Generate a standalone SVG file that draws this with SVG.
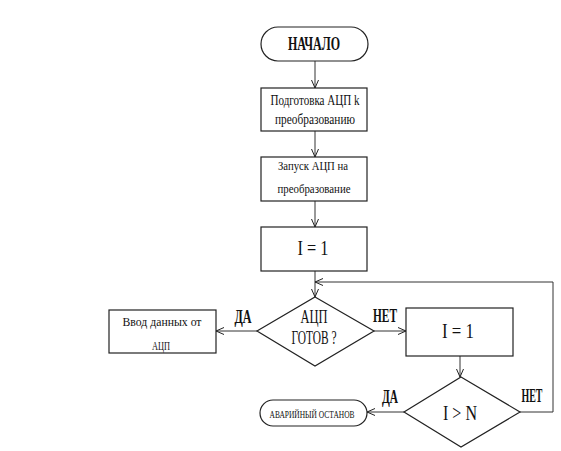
<svg xmlns="http://www.w3.org/2000/svg" width="561" height="451" viewBox="0 0 561 451">
<defs>
<marker id="arr" markerWidth="10" markerHeight="10" refX="9" refY="5" orient="auto" markerUnits="userSpaceOnUse">
<path d="M1,1.5 L9,5 L1,8.5" fill="none" stroke="#222" stroke-width="1"/>
</marker>
<style>
.s{fill:#fff;stroke:#222;stroke-width:1.2}
.c{fill:none;stroke:#333;stroke-width:1}
text{font-family:"Liberation Serif","DejaVu Serif",serif;fill:#111;text-anchor:middle}
.t{font-size:15px}
.t2{font-size:13px}
.b{font-size:19px;font-weight:bold}
.m{font-size:22px}
.q{font-size:19px}
.sm{font-size:10px}
</style>
</defs>
<rect width="561" height="451" fill="#fff"/>
<g id="connectors">
<line class="c" x1="315" y1="61" x2="315" y2="88" marker-end="url(#arr)"/>
<line class="c" x1="315" y1="131" x2="315" y2="157" marker-end="url(#arr)"/>
<line class="c" x1="315" y1="201" x2="315" y2="227" marker-end="url(#arr)"/>
<line class="c" x1="315" y1="271" x2="315" y2="297" marker-end="url(#arr)"/>
<line class="c" x1="257" y1="331" x2="216" y2="331" marker-end="url(#arr)"/>
<line class="c" x1="374" y1="331" x2="406" y2="331" marker-end="url(#arr)"/>
<line class="c" x1="460" y1="356" x2="460" y2="377" marker-end="url(#arr)"/>
<line class="c" x1="404" y1="412" x2="367" y2="412" marker-end="url(#arr)"/>
<polyline class="c" points="520,412 553,412 553,282 315,282" marker-end="url(#arr)"/>
</g>
<g id="start">
<rect class="s" x="261" y="27" width="107" height="34" rx="17"/>
<text class="b" x="314" y="50" font-size="20" textLength="52" lengthAdjust="spacingAndGlyphs">НАЧАЛО</text>
</g>
<g id="prep">
<rect class="s" x="261" y="88" width="106" height="43"/>
<text class="t" x="315" y="105" textLength="89" lengthAdjust="spacingAndGlyphs">Подготовка АЦП k</text>
<text class="t" x="315" y="124" textLength="80" lengthAdjust="spacingAndGlyphs">преобразованию</text>
</g>
<g id="launch">
<rect class="s" x="261" y="157" width="106" height="44"/>
<text class="t2" x="313" y="170" textLength="70" lengthAdjust="spacingAndGlyphs">Запуск  АЦП на</text>
<text class="t2" x="314" y="193" textLength="73" lengthAdjust="spacingAndGlyphs">преобразование</text>
</g>
<g id="init">
<rect class="s" x="261" y="227" width="106" height="44"/>
<text class="m" x="313" y="255" textLength="31" lengthAdjust="spacingAndGlyphs">I = 1</text>
</g>
<g id="ready">
<polygon class="s" points="315,297 374,331 315,366 257,331"/>
<text class="q" x="314" y="323" textLength="27" lengthAdjust="spacingAndGlyphs">АЦП</text>
<text class="q" x="314" y="344" textLength="45" lengthAdjust="spacingAndGlyphs">ГОТОВ ?</text>
</g>
<g id="input">
<rect class="s" x="109" y="310" width="107" height="43"/>
<text class="t2" x="162" y="326" textLength="79" lengthAdjust="spacingAndGlyphs">Ввод данных от</text>
<text class="t2" x="161" y="350" textLength="18" lengthAdjust="spacingAndGlyphs">АЦП</text>
</g>
<g id="set">
<rect class="s" x="406" y="308" width="107" height="48"/>
<text class="m" x="458" y="338" textLength="32" lengthAdjust="spacingAndGlyphs">I = 1</text>
</g>
<g id="cmp">
<polygon class="s" points="461,377 520,412 461,447 404,412"/>
<text class="m" x="460" y="420" textLength="34" lengthAdjust="spacingAndGlyphs">I &gt; N</text>
</g>
<g id="stop">
<rect class="s" x="260" y="400" width="107" height="26" rx="13"/>
<text class="sm" x="312" y="418" textLength="85" lengthAdjust="spacingAndGlyphs">АВАРИЙНЫЙ ОСТАНОВ</text>
</g>
<g id="labels">
<text class="b" x="243" y="323" textLength="17" lengthAdjust="spacingAndGlyphs">ДА</text>
<text class="b" x="385" y="322" textLength="24" lengthAdjust="spacingAndGlyphs">НЕТ</text>
<text class="b" x="390" y="403" textLength="16" lengthAdjust="spacingAndGlyphs">ДА</text>
<text class="b" x="532" y="402" textLength="21" lengthAdjust="spacingAndGlyphs">НЕТ</text>
</g>
</svg>
